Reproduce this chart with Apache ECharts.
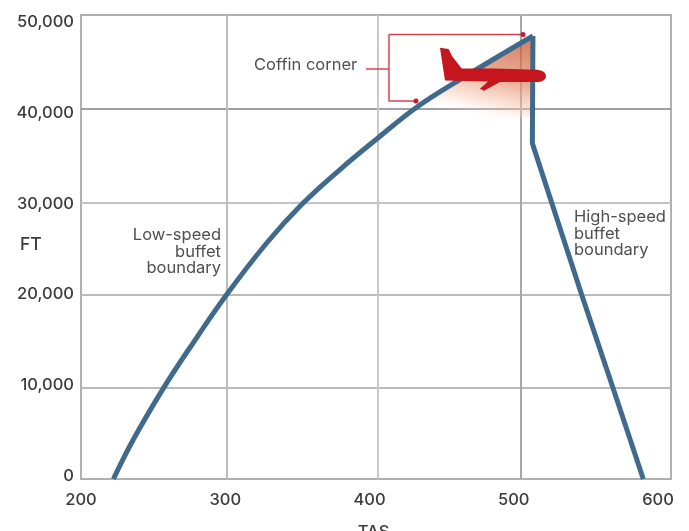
<!DOCTYPE html>
<html>
<head>
<meta charset="utf-8">
<title>Coffin corner</title>
<script src="https://cdn.jsdelivr.net/npm/echarts@6/dist/echarts.min.js"></script>
<style>
  html, body { margin: 0; padding: 0; background: #fff; overflow: hidden; }
  #chart { width: 689px; height: 531px; }
</style>
</head>
<body>
<div id="chart"></div>
<script>
// low-speed buffet boundary, up to the apex
var lowTas = [222, 235.3, 255.8, 273.9, 298.3, 325.9, 349.6, 375.6, 400.5, 427.8, 456.9, 506.4];
var lowFt = [0, 4200, 9770, 14170, 19770, 25430, 29580, 33350, 36640, 40090, 43050, 47740];

// high-speed side, apex down to the ground
var highTas = [506.4, 506, 539.5, 560.7, 581.2];
var highFt = [47740, 36170, 19830, 9810, 0];

// shaded wedge under the apex
var cornerTas = [419.2, 427.8, 456.9, 506.4];
var cornerFt = [39000, 40090, 43050, 47740];

// red bracket that points at the corner
var bracketTas = [499.7, 408.8, 408.8, 427.1];
var bracketFt = [47900, 47900, 40730, 40730];
var leaderTas = [393.2, 408.8];
var leaderFt = [44180, 44180];

var planeTas = 479.3;
var planeFt = 44150;

// tick labels
var tasTicks = [200, 300, 400, 500, 600];
var ftTicks = [0, 10000, 20000, 30000, 40000, 50000];

// gridlines in the picture are not quite evenly spaced
var tasGrid = [299, 401.4, 498.3];
var ftGrid = [9806, 19830, 29800, 39870];

function pairs(xs, ys) {
    return xs.map(function (x, i) { return [x, ys[i]]; });
}

var planePath = 'path://M240,115 L266,119 L276,140 L305,177 L405,177 L530,181 C548,182 558,190 558,200 C558,210 548,218 530,218 L420,218 L372,244 L360,238 L384,216 L255,213 L250,180 Z';
var font = 'Inter';
var boundaryStyle = { color: '#3f6a8c', width: 5, join: 'miter' };

var myChart = echarts.init(document.getElementById('chart'));

myChart.setOption({
    animation: false,
    backgroundColor: '#fff',
    grid: {
        left: 81, top: 15, width: 590, height: 464,
        outerBoundsMode: 'none',
        show: true, borderColor: '#b0b0b0', borderWidth: 2, backgroundColor: 'transparent'
    },
    xAxis: [{
        // data axis
        type: 'value', min: 200, max: 600,
        axisLine: { show: false },
        axisTick: { show: false, customValues: tasGrid },
        axisLabel: { show: false },
        splitLine: { show: true, lineStyle: { color: ['#bdbdbd', '#c8c8c8', '#a8a8a8'], width: 2 } }
    }, {
        // labels sit slightly off the gridlines, so they get their own axis
        type: 'value', min: 200, max: 609, position: 'bottom',
        name: 'TAS', nameLocation: 'middle', nameGap: 45,
        nameTextStyle: { color: '#3c3c3c', fontFamily: font, fontSize: 16.5, fontWeight: 500, padding: [0, 5, 0, 0] },
        axisLine: { show: false },
        axisTick: { show: false },
        axisLabel: { customValues: tasTicks, color: '#3c3c3c', fontFamily: font, fontSize: 16.5, fontWeight: 500, margin: 13, hideOverlap: false, showMinLabel: true, showMaxLabel: true },
        splitLine: { show: false }
    }],
    yAxis: [{
        type: 'value', min: 0, max: 50000,
        axisLine: { show: false },
        axisTick: { show: false, customValues: ftGrid },
        axisLabel: { show: false },
        splitLine: { show: true, lineStyle: { color: ['#bbbbbb', '#bbbbbb', '#c4c4c4', '#a0a0a0'], width: 2 } }
    }, {
        type: 'value', min: -331, max: 50773, position: 'left',
        axisLine: { show: false },
        axisTick: { show: false },
        axisLabel: {
            customValues: ftTicks, color: '#3c3c3c', fontFamily: font, fontSize: 16.5, fontWeight: 500, margin: 7,
            formatter: function (v) { return echarts.format.addCommas(v); }
        },
        splitLine: { show: false }
    }],
    series: [{
        name: 'Coffin corner',
        type: 'line',
        data: pairs(cornerTas, cornerFt),
        showSymbol: false,
        lineStyle: { width: 0 },
        areaStyle: {
            origin: 39000,
            color: new echarts.graphic.LinearGradient(0.7, 0, 0.55, 1, [
                { offset: 0, color: '#c8502a' },
                { offset: 0.5, color: '#e58f6c' },
                { offset: 0.8, color: 'rgba(245,200,180,0.6)' },
                { offset: 1, color: 'rgba(255,255,255,0)' }
            ])
        },
        z: 2
    }, {
        name: 'Low-speed buffet boundary',
        type: 'line',
        data: pairs(lowTas, lowFt),
        smooth: 0.4,
        showSymbol: false,
        clip: false,
        lineStyle: boundaryStyle,
        z: 3
    }, {
        name: 'High-speed buffet boundary',
        type: 'line',
        data: pairs(highTas, highFt),
        showSymbol: false,
        clip: false,
        lineStyle: boundaryStyle,
        z: 3
    }, {
        type: 'line',
        data: pairs(bracketTas, bracketFt).map(function (p, i) {
            var isEnd = i === 0 || i === bracketTas.length - 1;
            return { value: p, symbol: isEnd ? 'circle' : 'none', symbolSize: 5 };
        }),
        showAllSymbol: true,
        itemStyle: { color: '#c41e2a' },
        lineStyle: { color: '#d8434f', width: 1.5 },
        z: 4
    }, {
        type: 'line',
        data: pairs(leaderTas, leaderFt),
        showSymbol: false,
        lineStyle: { color: '#d8434f', width: 1.5 },
        z: 4
    }, {
        type: 'scatter',
        data: [[planeTas, planeFt]],
        symbol: planePath,
        symbolSize: [106, 43],
        itemStyle: { color: '#c5161d', opacity: 1 },
        z: 5
    }],
    graphic: [
        { type: 'text', x: 20, y: 236, style: { text: 'FT', fill: '#3c3c3c', font: '500 17.5px Inter' } },
        { type: 'text', x: 254, y: 57, style: { text: 'Coffin corner', fill: '#4f4f4f', font: '16.5px Inter' } },
        { type: 'text', x: 221, y: 227, style: { text: 'Low-speed\nbuffet\nboundary', fill: '#4f4f4f', font: '16.5px Inter', align: 'right', lineHeight: 16.5 } },
        { type: 'text', x: 574, y: 209, style: { text: 'High-speed\nbuffet\nboundary', fill: '#4f4f4f', font: '16.5px Inter', align: 'left', lineHeight: 16.5 } }
    ]
});
</script>
</body>
</html>
